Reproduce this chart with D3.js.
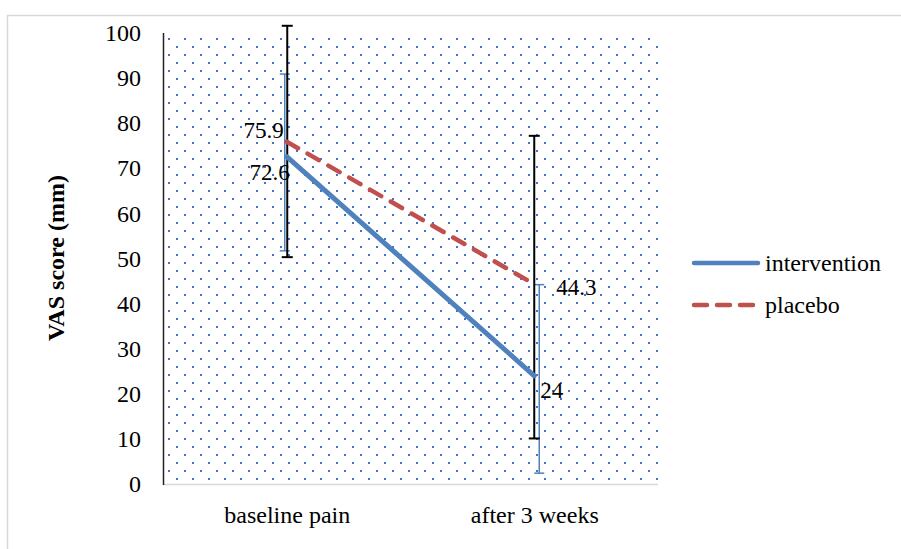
<!DOCTYPE html>
<html>
<head>
<meta charset="utf-8">
<script src="https://cdn.jsdelivr.net/npm/d3@7"></script>
<style>
  html, body { margin: 0; padding: 0; background: #fff; }
  svg { display: block; }
</style>
</head>
<body>
<svg id="chart" width="901" height="549"></svg>
<script>
// ---- data ----
const categories = ["baseline pain", "after 3 weeks"];
const seriesNames = ["intervention", "placebo"];
const interventionValues = [72.6, 24];
const placeboValues = [75.9, 44.3];
const interventionLow = [51.7, 2.4];
const interventionHigh = [90.9, 44.2];
const placeboLow = [50.3, 10.1];
const placeboHigh = [101.6, 77.2];
const yTicks = [0, 10, 20, 30, 40, 50, 60, 70, 80, 90, 100];
const yTitle = "VAS score (mm)";

// ---- layout / style ----
const FONT = "'Times New Roman', 'Liberation Serif', Tinos, 'DejaVu Serif', serif";
const plot = { left: 163, right: 658, top: 33, bottom: 484 };
const blue = "#4F81BD", red = "#C0504D";

const svg = d3.select("#chart");

// outer chart border
svg.append("rect").attr("x", 7.5).attr("y", 15.5).attr("width", 1200).attr("height", 1200)
  .attr("fill", "#fff").attr("stroke", "#d9d9d9").attr("stroke-width", 1.5);

const x = d3.scalePoint().domain(categories).range([plot.left, plot.right]).padding(0.5);
const y = d3.scaleLinear().domain([0, 100]).range([plot.bottom, plot.top]);

// dotted plot-area fill
const defs = svg.append("defs");
const pat = defs.append("pattern").attr("id", "dots").attr("patternUnits", "userSpaceOnUse")
  .attr("x", 168).attr("y", 38).attr("width", 16).attr("height", 16);
pat.append("rect").attr("x", 0).attr("y", 0).attr("width", 2).attr("height", 2).attr("fill", "#4472C4");
pat.append("rect").attr("x", 8).attr("y", 8).attr("width", 2).attr("height", 2).attr("fill", "#4472C4");
svg.append("rect").attr("x", plot.left).attr("y", plot.top)
  .attr("width", plot.right - plot.left).attr("height", plot.bottom - plot.top)
  .attr("fill", "url(#dots)");

// axes
svg.append("line").attr("x1", plot.left).attr("x2", plot.right)
  .attr("y1", plot.bottom + 0.5).attr("y2", plot.bottom + 0.5)
  .attr("stroke", "#d9d9d9").attr("stroke-width", 1.5);
svg.append("line").attr("x1", plot.left + 0.5).attr("x2", plot.left + 0.5)
  .attr("y1", plot.top).attr("y2", plot.bottom + 1)
  .attr("stroke", "#222").attr("stroke-width", 1.5);

const yAxis = d3.axisLeft(y).tickValues(yTicks).tickSize(0).tickPadding(22).tickFormat(d3.format("d"));
const gy = svg.append("g").attr("transform", `translate(${plot.left},0)`).call(yAxis);
gy.attr("font-family", null).attr("font-size", null);
gy.select(".domain").remove();
gy.selectAll("text").style("font-family", FONT).style("font-size", "24px").attr("fill", "#000");

const xAxis = d3.axisBottom(x).tickSize(0).tickPadding(22);
const gx = svg.append("g").attr("transform", `translate(0,${plot.bottom})`).call(xAxis);
gx.attr("font-family", null).attr("font-size", null);
gx.select(".domain").remove();
gx.selectAll("text").style("font-family", FONT).style("font-size", "24px").attr("fill", "#000");

// y title
svg.append("text").attr("transform", `translate(64,258) rotate(-90)`)
  .style("font-family", FONT).attr("text-anchor", "middle").style("font-size", "24px")
  .attr("font-weight", "bold").text(yTitle);

// error bars
function errorBars(lows, highs, color, width, dxs, cap) {
  const g = svg.append("g").attr("stroke", color).attr("stroke-width", width).attr("fill", "none");
  categories.forEach((c, i) => {
    const cx = x(c) + dxs[i];
    g.append("line").attr("x1", cx).attr("x2", cx).attr("y1", y(highs[i])).attr("y2", y(lows[i]));
    g.append("line").attr("x1", cx - cap).attr("x2", cx + cap).attr("y1", y(highs[i])).attr("y2", y(highs[i]));
    g.append("line").attr("x1", cx - cap).attr("x2", cx + cap).attr("y1", y(lows[i])).attr("y2", y(lows[i]));
  });
}
errorBars(interventionLow, interventionHigh, blue, 1.5, [-2, 5], 5);
errorBars(placeboLow, placeboHigh, "#000", 2, [0.5, 0], 5.5);

// lines
const line = d3.line().x((d, i) => x(categories[i])).y(d => y(d));
svg.append("path").datum(interventionValues).attr("d", line)
  .attr("fill", "none").attr("stroke", blue).attr("stroke-width", 5).attr("stroke-linecap", "round");
svg.append("path").datum(placeboValues).attr("d", line)
  .attr("fill", "none").attr("stroke", red).attr("stroke-width", 4.5).attr("stroke-linecap", "round")
  .attr("stroke-dasharray", "13,11");

// data labels
function label(txt, cx, cy, anchor) {
  svg.append("text").attr("x", cx).attr("y", cy).attr("text-anchor", anchor)
    .attr("dominant-baseline", "central").style("font-family", FONT).style("font-size", "23px")
    .attr("fill", "#000").text(txt);
}
label(d3.format(".1f")(placeboValues[0]), x(categories[0]) - 3, y(placeboValues[0]) - 11, "end");
label(d3.format(".1f")(interventionValues[0]), x(categories[0]) + 3, y(interventionValues[0]) + 16, "end");
label(d3.format(".1f")(placeboValues[1]), x(categories[1]) + 22, y(placeboValues[1]) + 3, "start");
label(String(interventionValues[1]), x(categories[1]) + 6, y(interventionValues[1]) + 15, "start");

// legend
const lg = svg.append("g");
[[seriesNames[0], blue, null, 263], [seriesNames[1], red, "13,10", 305]].forEach(([name, col, dash, ly]) => {
  const l = lg.append("line").attr("x1", 694).attr("x2", 758).attr("y1", ly).attr("y2", ly)
    .attr("stroke", col).attr("stroke-width", 4.5).attr("stroke-linecap", "round");
  if (dash) l.attr("stroke-dasharray", dash);
  lg.append("text").attr("x", 765).attr("y", ly).attr("dominant-baseline", "central")
    .style("font-family", FONT).style("font-size", "24px").attr("fill", "#000").text(name);
});
</script>
</body>
</html>
